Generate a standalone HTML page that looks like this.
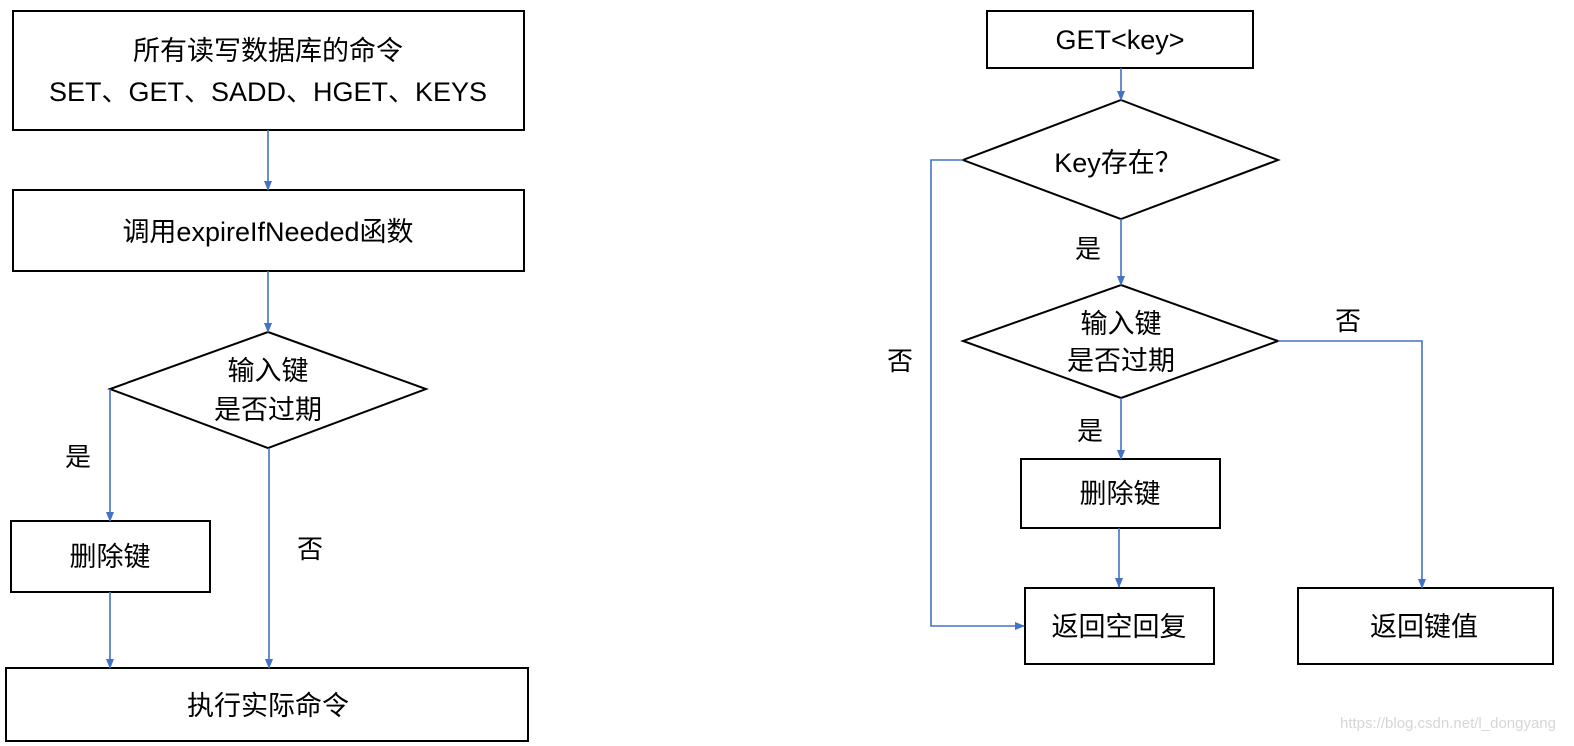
<!DOCTYPE html>
<html><head><meta charset="utf-8"><style>
html,body{margin:0;padding:0;background:#fff;}
svg{display:block;}
text{font-family:"Liberation Sans","Noto Sans CJK SC",sans-serif;fill:#000;}
</style></head><body>
<svg width="1574" height="746" viewBox="0 0 1574 746" xmlns="http://www.w3.org/2000/svg">
<defs>
<marker id="a" markerWidth="10" markerHeight="10" refX="9" refY="5" orient="auto" markerUnits="userSpaceOnUse">
<path d="M0,1 L10,5 L0,9 Z" fill="#4472c4"/></marker>
</defs>
<g fill="none" stroke="#000" stroke-width="2">
<rect x="13" y="11" width="511" height="119"/>
<rect x="13" y="190" width="511" height="81"/>
<polygon points="268,332 426,389 268,448 110,389"/>
<rect x="11" y="521" width="199" height="71"/>
<rect x="6" y="668" width="522" height="73"/>
<rect x="987" y="11" width="266" height="57"/>
<polygon points="1121,100 1278,160 1121,219 963,160"/>
<polygon points="1121,285 1278,341 1121,398 963,341"/>
<rect x="1021" y="459" width="199" height="69"/>
<rect x="1025" y="588" width="189" height="76"/>
<rect x="1298" y="588" width="255" height="76"/>
</g>
<g fill="none" stroke="#4472c4" stroke-width="1.6" marker-end="url(#a)">
<line x1="268" y1="130" x2="268" y2="190"/>
<line x1="268" y1="271" x2="268" y2="332"/>
<line x1="110" y1="389" x2="110" y2="521"/>
<line x1="110" y1="592" x2="110" y2="668"/>
<line x1="269" y1="448" x2="269" y2="668"/>
<line x1="1121" y1="68" x2="1121" y2="100"/>
<line x1="1121" y1="219" x2="1121" y2="285"/>
<line x1="1121" y1="398" x2="1121" y2="459"/>
<line x1="1119" y1="528" x2="1119" y2="587"/>
<polyline points="963,160 931,160 931,626 1024,626"/>
<polyline points="1278,341 1422,341 1422,588"/>
</g>
<g font-size="27" text-anchor="middle">
<text x="268" y="60">所有读写数据库的命令</text>
<text x="268" y="101">SET、GET、SADD、HGET、KEYS</text>
<text x="268" y="241">调用expireIfNeeded函数</text>
<text x="268" y="380">输入键</text>
<text x="268" y="419">是否过期</text>
<text x="110" y="566">删除键</text>
<text x="268" y="715">执行实际命令</text>
<text x="1120" y="49">GET&lt;key&gt;</text>
<text x="1118" y="172">Key存在？</text>
<text x="1121" y="333">输入键</text>
<text x="1121" y="370">是否过期</text>
<text x="1120" y="503">删除键</text>
<text x="1119" y="636">返回空回复</text>
<text x="1424" y="636">返回键值</text>
</g>
<g font-size="26" text-anchor="middle">
<text x="78" y="466">是</text>
<text x="310" y="558">否</text>
<text x="1088" y="258">是</text>
<text x="1090" y="440">是</text>
<text x="900" y="370">否</text>
<text x="1348" y="330">否</text>
</g>
<text x="1448" y="728" font-size="15" text-anchor="middle" fill="#d6d6d6" style="fill:#d6d6d6">https://blog.csdn.net/l_dongyang</text>
</svg>
</body></html>
